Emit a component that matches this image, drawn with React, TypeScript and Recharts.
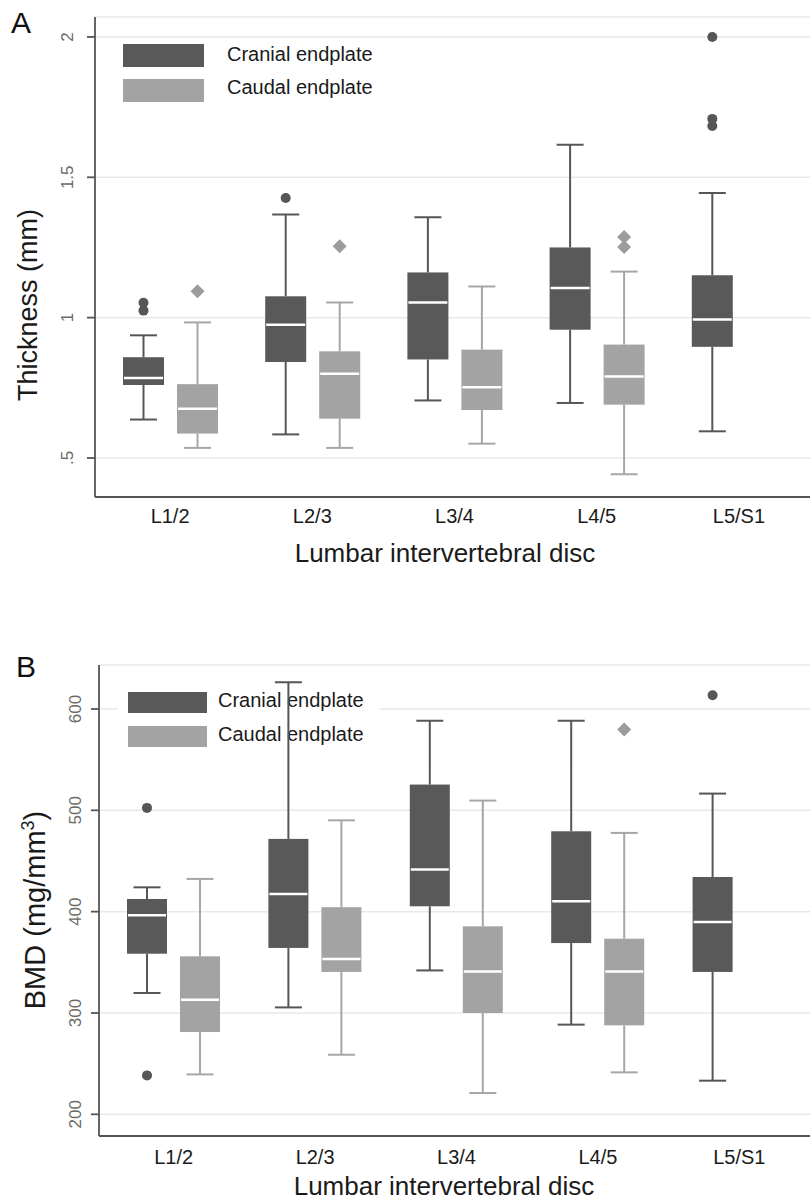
import React from 'react';
import { ComposedChart, Bar, XAxis, YAxis, CartesianGrid } from 'recharts';

const categories = ['L1/2', 'L2/3', 'L3/4', 'L4/5', 'L5/S1'];

// Panel A: endplate thickness (mm)
const thickCranialLow = [0.637, 0.584, 0.705, 0.696, 0.595];
const thickCranialQ1 = [0.76, 0.842, 0.851, 0.957, 0.896];
const thickCranialMedian = [0.785, 0.975, 1.054, 1.106, 0.993];
const thickCranialQ3 = [0.859, 1.076, 1.161, 1.25, 1.151];
const thickCranialHigh = [0.937, 1.367, 1.358, 1.616, 1.444];
const thickCranialOutliers = [[1.025, 1.053], [1.426], [], [], [1.683, 1.708, 2.0]];

const thickCaudalLow = [0.536, 0.536, 0.551, 0.442, null];
const thickCaudalQ1 = [0.587, 0.64, 0.671, 0.69, null];
const thickCaudalMedian = [0.675, 0.8, 0.752, 0.79, null];
const thickCaudalQ3 = [0.763, 0.88, 0.886, 0.904, null];
const thickCaudalHigh = [0.983, 1.054, 1.111, 1.164, null];
const thickCaudalOutliers = [[1.094], [1.254], [], [1.252, 1.287], []];

const thickTicks = [0.5, 1, 1.5, 2];
const thickTickLabels = ['.5', '1', '1.5', '2'];

// Panel B: BMD (mg/mm3)
const bmdCranialLow = [319.7, 305.5, 342, 288.5, 233.2];
const bmdCranialQ1 = [358.5, 364.2, 405.3, 369, 340.5];
const bmdCranialMedian = [396.4, 417.5, 441.5, 410.2, 389.8];
const bmdCranialQ3 = [412.5, 471.8, 525.4, 479.3, 434.2];
const bmdCranialHigh = [424, 626.4, 588.5, 588.5, 516.5];
const bmdCranialOutliers = [[238.4, 502.4], [], [], [], [613.5]];

const bmdCaudalLow = [239.4, 258.8, 221, 241.4, null];
const bmdCaudalQ1 = [281.2, 340.5, 300, 287.8, null];
const bmdCaudalMedian = [313, 353.3, 341, 341, null];
const bmdCaudalQ3 = [355.9, 404.4, 385.5, 373.3, null];
const bmdCaudalHigh = [432.3, 490.1, 509.6, 477.7, null];
const bmdCaudalOutliers = [[], [], [], [579.7], []];

const bmdTicks = [200, 300, 400, 500, 600];
const bmdTickLabels = ['200', '300', '400', '500', '600'];

const seriesNames = ['Cranial endplate', 'Caudal endplate'];

const FONT = '"Liberation Sans", Arial, sans-serif';
const CRANIAL_FILL = '#595959';
const CRANIAL_LINE = '#565656';
const CAUDAL_FILL = '#a3a3a3';
const CAUDAL_LINE = '#a6a6a6';
const CAUDAL_OUT = '#9c9c9c';

type Stats = {
  low: (number | null)[];
  q1: (number | null)[];
  med: (number | null)[];
  q3: (number | null)[];
  high: (number | null)[];
  out: number[][];
};

const thickCranial: Stats = { low: thickCranialLow, q1: thickCranialQ1, med: thickCranialMedian, q3: thickCranialQ3, high: thickCranialHigh, out: thickCranialOutliers };
const thickCaudal: Stats = { low: thickCaudalLow, q1: thickCaudalQ1, med: thickCaudalMedian, q3: thickCaudalQ3, high: thickCaudalHigh, out: thickCaudalOutliers };
const bmdCranial: Stats = { low: bmdCranialLow, q1: bmdCranialQ1, med: bmdCranialMedian, q3: bmdCranialQ3, high: bmdCranialHigh, out: bmdCranialOutliers };
const bmdCaudal: Stats = { low: bmdCaudalLow, q1: bmdCaudalQ1, med: bmdCaudalMedian, q3: bmdCaudalQ3, high: bmdCaudalHigh, out: bmdCaudalOutliers };

function buildRows(cr: Stats, cd: Stats) {
  return categories.map((c, i) => ({
    cat: c,
    idx: i,
    cranial: cr.low[i] == null ? null : [cr.low[i], cr.high[i]],
    caudal: cd.low[i] == null ? null : [cd.low[i], cd.high[i]],
  }));
}

const thickRows = buildRows(thickCranial, thickCaudal);
const bmdRows = buildRows(bmdCranial, bmdCaudal);

function makeBoxShape(stats: Stats, kind: 'cranial' | 'caudal') {
  const fill = kind === 'cranial' ? CRANIAL_FILL : CAUDAL_FILL;
  const line = kind === 'cranial' ? CRANIAL_LINE : CAUDAL_LINE;
  return (props: any) => {
    const { x, y, width, height, payload } = props;
    const i = payload.idx;
    const lo = stats.low[i];
    const hi = stats.high[i];
    if (lo == null || hi == null || width == null) return <g />;
    const top = Math.min(y, y + height);
    const bot = Math.max(y, y + height);
    const py = (v: number) => top + ((hi - v) / (hi - lo)) * (bot - top);
    const cx = x + width / 2;
    const capHalf = 13.5;
    const q1 = py(stats.q1[i] as number);
    const q3 = py(stats.q3[i] as number);
    const md = py(stats.med[i] as number);
    return (
      <g>
        <line x1={cx} x2={cx} y1={py(hi)} y2={q3} stroke={line} strokeWidth={2} />
        <line x1={cx} x2={cx} y1={q1} y2={py(lo)} stroke={line} strokeWidth={2} />
        <line x1={cx - capHalf} x2={cx + capHalf} y1={py(hi)} y2={py(hi)} stroke={line} strokeWidth={2} />
        <line x1={cx - capHalf} x2={cx + capHalf} y1={py(lo)} y2={py(lo)} stroke={line} strokeWidth={2} />
        <rect x={x} y={q3} width={width} height={q1 - q3} fill={fill} />
        <line x1={x + 1} x2={x + width - 1} y1={md} y2={md} stroke="#ffffff" strokeWidth={2.5} />
        {stats.out[i].map((v, k) =>
          kind === 'cranial' ? (
            <circle key={k} cx={cx} cy={py(v)} r={5} fill={CRANIAL_LINE} />
          ) : (
            <path
              key={k}
              d={`M ${cx} ${py(v) - 7} L ${cx + 7} ${py(v)} L ${cx} ${py(v) + 7} L ${cx - 7} ${py(v)} Z`}
              fill={CAUDAL_OUT}
            />
          )
        )}
      </g>
    );
  };
}

function LegendBlock(props: { rectX: number; rectY: number[]; rectW: number; rectH: number; textX: number; baselines: number[]; bg: number[] }) {
  const { rectX, rectY, rectW, rectH, textX, baselines, bg } = props;
  const fills = [CRANIAL_FILL, CAUDAL_FILL];
  return (
    <g>
      <rect x={bg[0]} y={bg[1]} width={bg[2]} height={bg[3]} fill="#ffffff" />
      {seriesNames.map((n, k) => (
        <g key={n}>
          <rect x={rectX} y={rectY[k]} width={rectW} height={rectH} fill={fills[k]} />
          <text x={textX} y={baselines[k]} fontFamily={FONT} fontSize={20} fill="#1a1a1a">
            {n}
          </text>
        </g>
      ))}
    </g>
  );
}

function makeYTick(labels: string[], ticks: number[], shift: number) {
  return (props: any) => {
    const { x, y, payload } = props;
    const k = ticks.indexOf(payload.value);
    const label = k >= 0 ? labels[k] : String(payload.value);
    const bx = x - shift;
    return (
      <text
        x={bx}
        y={y}
        transform={`rotate(-90, ${bx}, ${y})`}
        textAnchor="middle"
        fontFamily={FONT}
        fontSize={17}
        fill="#6a6a6a"
      >
        {label}
      </text>
    );
  };
}

function makeXTick(dy: number) {
  return (props: any) => {
    const { x, y, payload } = props;
    return (
      <text x={x} y={y + dy} textAnchor="middle" fontFamily={FONT} fontSize={20} fill="#1a1a1a">
        {payload.value}
      </text>
    );
  };
}

const axisStroke = '#555555';

function PanelA() {
  return (
    <ComposedChart
      width={810}
      height={600}
      data={thickRows}
      margin={{ top: 17, right: 0, bottom: 0, left: 0 }}
      barSize={41}
      barGap={13}
    >
      <CartesianGrid vertical={false} stroke="#e8e8e8" strokeWidth={1.5} />
      <LegendBlock
        rectX={123}
        rectY={[44, 79]}
        rectW={81}
        rectH={23}
        textX={227}
        baselines={[61, 94]}
        bg={[112, 40, 280, 66]}
      />
      <text x={11} y={33} fontFamily={FONT} fontSize={30} fill="#111">A</text>
      <XAxis
        dataKey="cat"
        type="category"
        height={103}
        padding={{ left: 4, right: 0 }}
        tickLine={false}
        tickSize={0}
        tickMargin={0}
        stroke={axisStroke}
        strokeWidth={1.8}
        tick={makeXTick(26)}
        interval={0}
        label={{
          content: () => (
            <text x={445} y={562} textAnchor="middle" fontFamily={FONT} fontSize={26} fill="#1a1a1a">
              Lumbar intervertebral disc
            </text>
          ),
        }}
      />
      <YAxis
        type="number"
        width={95}
        domain={[0.361, 2.071]}
        ticks={thickTicks}
        allowDataOverflow
        tickSize={8}
        tickMargin={2}
        stroke={axisStroke}
        strokeWidth={1.8}
        tick={makeYTick(thickTickLabels, thickTicks, 12)}
        label={{
          content: () => (
            <text
              x={37}
              y={305}
              transform="rotate(-90, 37, 305)"
              textAnchor="middle"
              fontFamily={FONT}
              fontSize={27}
              fill="#1a1a1a"
            >
              Thickness (mm)
            </text>
          ),
        }}
      />
      <Bar dataKey="cranial" isAnimationActive={false} shape={makeBoxShape(thickCranial, 'cranial')} />
      <Bar dataKey="caudal" isAnimationActive={false} shape={makeBoxShape(thickCaudal, 'caudal')} />
    </ComposedChart>
  );
}

function PanelB() {
  return (
    <ComposedChart
      width={810}
      height={584}
      data={bmdRows}
      margin={{ top: 45, right: 0, bottom: 0, left: 0 }}
      barSize={40}
      barGap={13}
    >
      <CartesianGrid vertical={false} stroke="#e8e8e8" strokeWidth={1.5} />
      <LegendBlock
        rectX={128}
        rectY={[72, 106]}
        rectW={79}
        rectH={21}
        textX={218}
        baselines={[87, 121]}
        bg={[118, 66, 262, 66]}
      />
      <text x={16} y={57} fontFamily={FONT} fontSize={30} fill="#111">B</text>
      <XAxis
        dataKey="cat"
        type="category"
        height={68}
        padding={{ left: 4, right: 0 }}
        tickLine={false}
        tickSize={0}
        tickMargin={0}
        stroke={axisStroke}
        strokeWidth={1.8}
        tick={makeXTick(28)}
        interval={0}
        label={{
          content: () => (
            <text x={444} y={575} textAnchor="middle" fontFamily={FONT} fontSize={26} fill="#1a1a1a">
              Lumbar intervertebral disc
            </text>
          ),
        }}
      />
      <YAxis
        type="number"
        width={99}
        domain={[178.6, 643.4]}
        ticks={bmdTicks}
        allowDataOverflow
        tickSize={8}
        tickMargin={2}
        stroke={axisStroke}
        strokeWidth={1.8}
        tick={makeYTick(bmdTickLabels, bmdTicks, 8)}
        label={{
          content: () => (
            <text
              x={45}
              y={290}
              transform="rotate(-90, 45, 290)"
              textAnchor="middle"
              fontFamily={FONT}
              fontSize={29}
              fill="#1a1a1a"
            >
              BMD (mg/mm
              <tspan dy={-11} fontSize={18}>3</tspan>
              <tspan dy={11}>)</tspan>
            </text>
          ),
        }}
      />
      <Bar dataKey="cranial" isAnimationActive={false} shape={makeBoxShape(bmdCranial, 'cranial')} />
      <Bar dataKey="caudal" isAnimationActive={false} shape={makeBoxShape(bmdCaudal, 'caudal')} />
    </ComposedChart>
  );
}

export default function App() {
  return (
    <div style={{ position: 'absolute', left: 0, top: 0, width: 810, height: 1204, background: '#ffffff', fontFamily: FONT }}>
      <div style={{ position: 'absolute', left: 0, top: 0 }}>
        <PanelA />
      </div>
      <div style={{ position: 'absolute', left: 0, top: 620 }}>
        <PanelB />
      </div>
    </div>
  );
}
